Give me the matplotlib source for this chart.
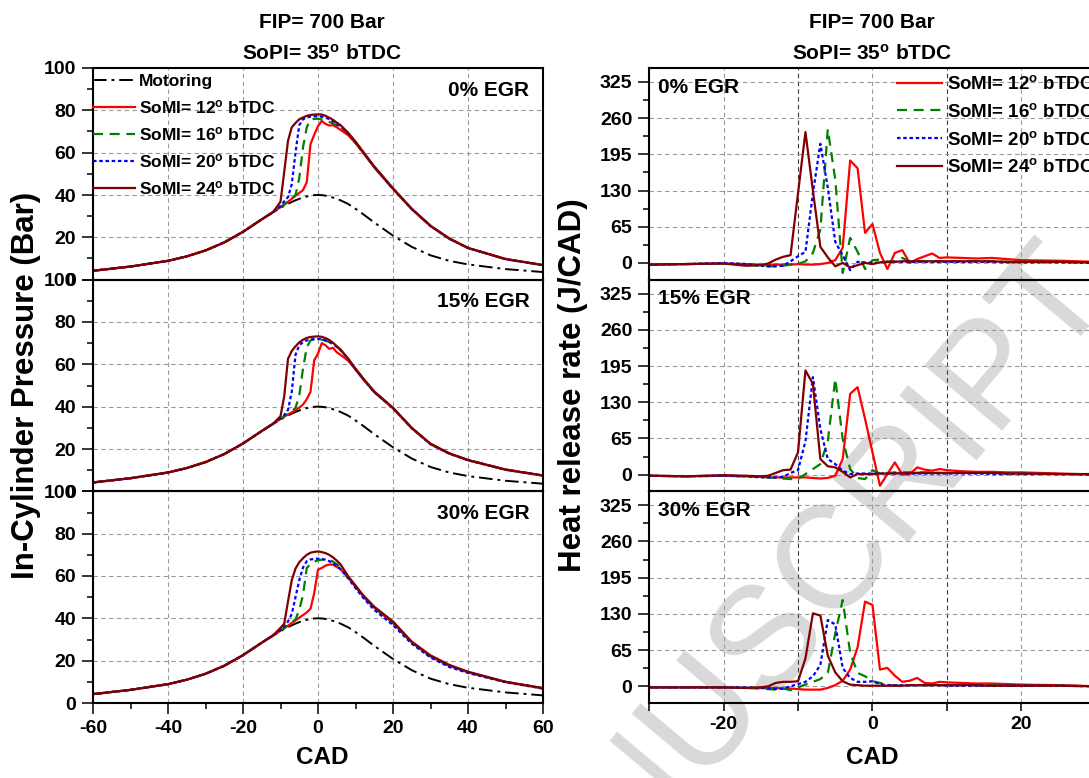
import matplotlib.pyplot as plt
from matplotlib.ticker import MultipleLocator, FixedLocator

plt.rcParams['font.family'] = ['Liberation Sans', 'DejaVu Sans']
plt.rcParams['font.weight'] = 'bold'
plt.rcParams['mathtext.fontset'] = 'custom'
plt.rcParams['mathtext.rm'] = 'Liberation Sans:bold'
plt.rcParams['mathtext.bf'] = 'Liberation Sans:bold'
plt.rcParams['mathtext.default'] = 'bf'
plt.rcParams['axes.unicode_minus'] = False

# ---------------------------------------------------------
# data: in-cylinder pressure (Bar) vs CAD
# ---------------------------------------------------------
p_x = [-60, -50, -40, -35, -30, -25, -20, -15, -12,
       -10, -9, -8, -7, -6, -5, -4, -3, -2, -1, 0, 1, 2, 3, 4, 5, 6,
       8, 10, 12, 15, 20, 25, 30, 35, 40, 50, 60]

p_comp = [4.2, 6.2, 8.9, 11.0, 13.8, 17.6, 22.6, 28.5, 31.9]

p_mot = p_comp + [33.8, 35.0, 35.8, 36.7, 37.5, 38.2, 38.8, 39.3, 39.7, 39.95, 40.0,
                  39.95, 39.7, 39.3, 38.8, 38.2, 37.5,
                  35.8, 33.5, 31.0, 27.0, 20.8, 15.5, 11.5, 8.9, 7.2, 5.0, 3.6]

p0_12 = p_comp + [34.3, 35.5, 36.8, 38.2, 39.6, 41.0, 42.3, 46.0, 64.0, 68.5, 72.5,
                  75.0, 73.6, 72.8, 73.0, 72.0, 70.8,
                  68.3, 64.5, 60.0, 53.0, 42.8, 33.3, 25.3, 19.3, 14.9, 9.7, 6.9]
p0_16 = p_comp + [34.3, 35.5, 36.8, 38.5, 40.0, 48.0, 62.5, 72.0, 75.5, 76.0, 76.0,
                  75.7, 75.2, 74.5, 73.8, 73.0, 72.0,
                  69.0, 64.8, 60.2, 53.2, 42.9, 33.4, 25.4, 19.4, 15.0, 9.7, 6.8]
p0_20 = p_comp + [34.8, 37.0, 39.0, 45.0, 60.0, 73.0, 75.8, 76.6, 77.0, 77.2, 77.2,
                  77.0, 76.6, 75.8, 74.8, 73.6, 72.4,
                  69.2, 65.0, 60.4, 53.3, 43.0, 33.4, 25.4, 19.4, 15.0, 9.7, 6.8]
p0_24 = p_comp + [36.8, 51.0, 65.6, 72.0, 74.0, 75.8, 76.6, 77.4, 77.8, 78.0, 78.1,
                  78.0, 77.4, 76.5, 75.5, 74.2, 73.0,
                  69.5, 65.2, 60.5, 53.5, 43.2, 33.5, 25.5, 19.5, 15.0, 9.8, 6.9]

p15_12 = p_comp + [34.2, 35.3, 36.3, 37.3, 38.3, 39.5, 41.0, 43.5, 47.0, 62.0, 65.0,
                   70.0, 69.0, 67.3, 67.8, 65.7, 64.5,
                   61.8, 57.5, 53.0, 46.8, 39.2, 29.8, 22.3, 17.8, 14.7, 10.2, 7.4]
p15_16 = p_comp + [34.3, 35.5, 36.6, 37.8, 39.5, 45.0, 58.0, 68.0, 71.3, 71.8, 71.9,
                   71.7, 71.2, 70.5, 69.6, 68.3, 66.8,
                   62.6, 57.8, 53.3, 47.0, 39.4, 29.9, 22.4, 17.9, 14.8, 10.3, 7.5]
p15_20 = p_comp + [34.5, 36.0, 38.5, 47.0, 64.5, 69.0, 70.5, 71.3, 71.7, 72.0, 72.0,
                   71.8, 71.3, 70.6, 69.6, 68.3, 66.8,
                   62.6, 57.7, 53.2, 46.9, 39.3, 29.8, 22.3, 17.8, 14.7, 10.2, 7.4]
p15_24 = p_comp + [35.5, 45.0, 62.6, 66.3, 68.5, 70.4, 71.6, 72.5, 72.9, 73.1, 73.2,
                   73.0, 72.4, 71.5, 70.2, 68.6, 67.0,
                   62.8, 58.0, 53.5, 47.2, 39.5, 30.0, 22.5, 18.0, 14.8, 10.3, 7.5]

p30_12 = p_comp + [34.2, 35.3, 36.5, 37.8, 39.0, 40.3, 41.5, 42.8, 44.5, 52.0, 63.0,
                   63.8, 64.9, 65.4, 65.4, 64.3, 63.2,
                   59.3, 55.0, 50.5, 45.0, 37.8, 28.6, 22.0, 17.6, 14.5, 10.0, 7.0]
p30_16 = p_comp + [34.3, 35.5, 36.8, 38.0, 39.5, 44.0, 51.0, 63.8, 65.8, 66.8, 67.4,
                   67.7, 67.9, 67.6, 66.8, 65.6, 64.0,
                   59.5, 55.0, 50.5, 45.0, 37.8, 28.6, 22.0, 17.6, 14.5, 10.0, 7.0]
p30_20 = p_comp + [34.5, 36.2, 38.5, 42.0, 50.0, 58.0, 64.0, 67.0, 67.8, 68.1, 68.2,
                   68.1, 67.7, 67.0, 66.0, 64.8, 63.3,
                   59.0, 54.3, 49.8, 44.0, 36.8, 28.0, 21.5, 17.0, 14.2, 9.8, 6.8]
p30_24 = p_comp + [35.5, 37.5, 48.0, 58.0, 63.5, 66.5, 68.4, 70.0, 71.0, 71.4, 71.6,
                   71.3, 70.8, 70.0, 68.8, 67.3, 65.5,
                   60.0, 55.5, 51.0, 45.5, 38.5, 29.0, 22.5, 18.0, 14.8, 10.0, 7.0]

# ---------------------------------------------------------
# data: heat release rate (J/CAD) vs CAD
# ---------------------------------------------------------
h_x = [-30, -25, -20, -17, -15, -14, -13, -12, -11, -10, -9, -8, -7, -6, -5, -4, -3,
       -2, -1, 0, 1, 2, 3, 4, 5, 6, 7, 8, 9, 10, 12, 14, 16, 18, 20, 25, 30]

h0_12 = [-3, -2, -1, -2, -3, -3, -3, -3, -3, -2, -3, -3, -2, 0, 5, 27, 184,
         170, 54, 70, 18, -11, 18, 23, 0, 7, 12, 17, 9, 10, 9, 8, 9, 7, 5, 4, 2]
h0_16 = [-3, -2, -1, -3, -5, -6, -6, -5, -3, -2, 3, 18, 60, 240, 150, -18, 45,
         20, -11, 5, 6, 2, 3, 9, 3, 3, 3, 3, 3, 3, 3, 3, 3, 2, 2, 2, 1]
h0_20 = [-3, -2, 0, -2, -5, -6, -6, -5, 3, 12, 20, 125, 214, 135, 38, 14, -13,
         2, 1, 0, 1, 2, 2, 2, 2, 2, 2, 2, 2, 2, 2, 2, 2, 1, 1, 1, 0]
h0_24 = [-3, -2, -1, -5, -4, -1, 6, 11, 14, 125, 235, 130, 29, 10, -6, 0, -8,
         -4, 0, -2, 1, 2, 2, 3, 3, 3, 3, 3, 3, 3, 3, 3, 3, 2, 2, 2, 1]

h15_12 = [-2, -3, -2, -3, -4, -5, -5, -5, -5, -5, -5, -6, -7, -6, -2, 28, 145,
          157, 100, 40, -20, 1, 22, 0, 1, 13, 9, 7, 10, 8, 6, 5, 5, 4, 4, 2, 0]
h15_16 = [-2, -3, -2, -3, -4, -5, -6, -7, -8, -8, 1, 10, 19, 60, 172, 64, 10,
          -6, -8, 8, 2, 3, 4, 4, 4, 4, 4, 4, 3, 3, 3, 3, 3, 2, 2, 1, 1]
h15_20 = [-2, -3, -2, -3, -5, -5, -5, -4, 3, 8, 60, 175, 82, 28, 19, 7, 1,
          2, 2, 2, 2, 2, 2, 2, 2, 2, 2, 2, 2, 2, 2, 2, 1, 1, 1, 1, 0]
h15_24 = [-2, -3, -1, -2, -3, -2, 3, 8, 9, 40, 187, 163, 28, 15, 13, 5, -5,
          1, 1, 1, 2, 2, 2, 3, 3, 3, 3, 3, 3, 3, 3, 3, 3, 2, 2, 1, 1]

h30_12 = [-2, -2, -2, -3, -3, -3, -3, -4, -4, -5, -6, -6, -6, -3, 2, 10, 30,
          70, 152, 146, 30, 33, 19, 8, 10, 15, 6, 5, 8, 7, 6, 5, 5, 4, 3, 2, 0]
h30_16 = [-2, -2, -2, -3, -4, -5, -6, -4, -7, -2, 3, 8, 13, 24, 95, 155, 60,
          24, 18, 9, 6, 3, 1, 1, 2, 2, 2, 2, 2, 2, 2, 2, 2, 1, 1, 1, 0]
h30_20 = [-2, -2, -2, -2, -3, -4, -5, -4, 0, 4, 8, 18, 38, 119, 111, 33, 15,
          8, 8, 9, 4, 2, 2, 2, 2, 2, 2, 2, 2, 1, 1, 1, 1, 1, 1, 1, 0]
h30_24 = [-2, -2, -2, -3, -2, 0, 6, 8, 8, 9, 50, 131, 127, 55, 25, 9, 3,
          2, 1, 1, 1, 1, 1, 1, 2, 2, 2, 2, 2, 2, 2, 2, 1, 1, 1, 1, 0]

egr_labels = ['0% EGR', '15% EGR', '30% EGR']
somi_labels = ['SoMI= 12$^{o}$ bTDC', 'SoMI= 16$^{o}$ bTDC',
               'SoMI= 20$^{o}$ bTDC', 'SoMI= 24$^{o}$ bTDC']
pressure_sets = [[p0_12, p0_16, p0_20, p0_24],
                 [p15_12, p15_16, p15_20, p15_24],
                 [p30_12, p30_16, p30_20, p30_24]]
hrr_sets = [[h0_12, h0_16, h0_20, h0_24],
            [h15_12, h15_16, h15_20, h15_24],
            [h30_12, h30_16, h30_20, h30_24]]

# line styles for the 4 injection timings
styles = [dict(color='#ff0000', lw=1.6),
          dict(color='#008000', lw=1.6, dashes=[4.5, 3]),
          dict(color='#0000ff', lw=1.6, dashes=[1.6, 1.2]),
          dict(color='#800000', lw=1.6)]

# ---------------------------------------------------------
# figure layout (pixel based)
# ---------------------------------------------------------
W, H = 1089, 778
fig = plt.figure(figsize=(W / 100, H / 100), dpi=100)

TOP, BOT = 68, 703
ph = (BOT - TOP) / 3


def add_ax(l, t, r, b):
    return fig.add_axes([l / W, 1 - b / H, (r - l) / W, (b - t) / H])


def style(ax):
    ax.set_facecolor('none')
    for s in ax.spines.values():
        s.set_linewidth(1.5)
    ax.tick_params(which='both', direction='out', width=1.1, labelsize=14, pad=4)
    ax.tick_params(which='major', length=8)
    ax.tick_params(which='minor', length=4.5)


grid_kw = dict(color='#9a9a9a', lw=0.8, ls=(0, (4, 3)))

# left column: pressure
for i in range(3):
    ax = add_ax(93, TOP + i * ph, 543, TOP + (i + 1) * ph)
    style(ax)
    ax.plot(p_x, p_mot, color='k', lw=1.4, dashes=[7, 2.5, 1.5, 2.5], label='Motoring')
    for y, st, lab in zip(pressure_sets[i], styles, somi_labels):
        ax.plot(p_x, y, label=lab, **st)
    ax.set_xlim(-60, 60)
    ax.set_ylim(0, 100)
    ax.xaxis.set_major_locator(MultipleLocator(20))
    ax.xaxis.set_minor_locator(MultipleLocator(10))
    ax.yaxis.set_major_locator(MultipleLocator(20))
    ax.yaxis.set_minor_locator(MultipleLocator(10))
    ax.grid(True, which='major', **grid_kw)
    if i < 2:
        ax.tick_params(axis='x', which='both', bottom=False, labelbottom=False)
    ax.text(0.97, 0.94, egr_labels[i], transform=ax.transAxes,
            ha='right', va='top', fontsize=15)
    if i == 0:
        ax.legend(loc='upper left', bbox_to_anchor=(0.0, 0.972), frameon=False,
                  fontsize=12.5, borderpad=0, borderaxespad=0, handlelength=2.4,
                  handletextpad=0.25, labelspacing=0.52)

# right column: heat release rate
for i in range(3):
    ax = add_ax(649, TOP + i * ph, 1096, TOP + (i + 1) * ph)
    style(ax)
    for y, st, lab in zip(hrr_sets[i], styles, somi_labels):
        ax.plot(h_x, y, label=lab, **st)
    ax.set_xlim(-30, 30)
    ax.set_ylim(-30, 350)
    ax.xaxis.set_major_locator(FixedLocator([-20, 0, 20]))
    ax.xaxis.set_minor_locator(FixedLocator([-30, -10, 10, 30]))
    ax.yaxis.set_major_locator(FixedLocator([0, 65, 130, 195, 260, 325]))
    ax.yaxis.set_minor_locator(MultipleLocator(32.5))
    ax.tick_params(axis='x', which='both', length=5.5)
    ax.grid(True, which='major', **grid_kw)
    ax.grid(True, which='minor', axis='x', color='#3c3c3c', lw=0.8, ls=(0, (4, 3)))
    if i < 2:
        ax.tick_params(axis='x', which='both', bottom=False, labelbottom=False)
    ax.text(0.02, 0.955, egr_labels[i], transform=ax.transAxes,
            ha='left', va='top', fontsize=15)
    if i == 0:
        ax.legend(loc='upper left', bbox_to_anchor=(0.555, 0.966), frameon=False,
                  fontsize=13.5, borderpad=0, borderaxespad=0, handlelength=2.4,
                  handletextpad=0.27, labelspacing=0.52)

# titles and axis labels
for xc in (322, 872):
    fig.text(xc / W, 1 - 22 / H, 'FIP= 700 Bar', ha='center', va='center', fontsize=15)
    fig.text(xc / W, 1 - 54 / H, 'SoPI= 35$^{o}$ bTDC', ha='center', va='center', fontsize=15)
    fig.text(xc / W, 1 - 757 / H, 'CAD', ha='center', va='center', fontsize=17.5)

fig.text(26 / W, 1 - 385 / H, 'In-Cylinder Pressure (Bar)', rotation=90,
         ha='center', va='center', fontsize=22.5)
fig.text(573 / W, 1 - 385 / H, 'Heat release rate (J/CAD)', rotation=90,
         ha='center', va='center', fontsize=22.5)

# watermark
fig.text(771 / W, 1 - 632 / H, 'MANUSCRIPT', rotation=50, color='#d9d9d9',
         fontsize=105, fontweight='normal', ha='center', va='center', zorder=-5)

fig.savefig('out.png', dpi=100)
